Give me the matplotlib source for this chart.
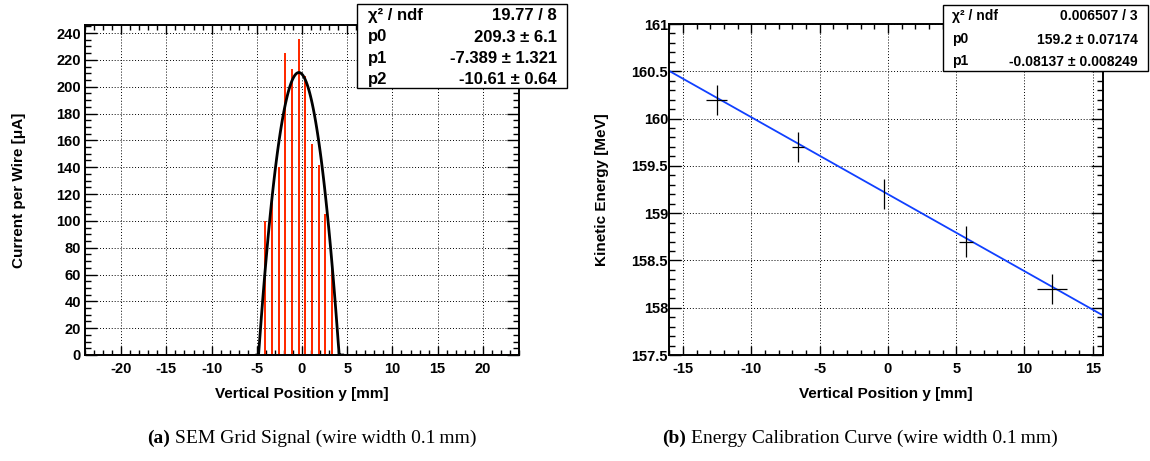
import numpy as np
import matplotlib
matplotlib.use('Agg')
from matplotlib import pyplot as plt
from matplotlib.patches import Rectangle
from matplotlib.ticker import MultipleLocator, FormatStrFormatter

plt.rcParams['font.family'] = ['Liberation Sans', 'DejaVu Sans']
plt.rcParams['font.weight'] = 'bold'
plt.rcParams['axes.labelweight'] = 'bold'
plt.rcParams['axes.unicode_minus'] = False

# SEM grid: wire positions [mm] and current per wire [uA]
wire_pos = [-4.05, -3.32, -2.58, -1.85, -1.11, -0.38, 0.36, 1.10, 1.83, 2.57, 3.30]
wire_current = [100, 120, 140, 225, 213.5, 235.5, 208, 157.5, 142, 105, 70]

# parabola fit p0 + p1*y + p2*y^2
sem_par = [209.3, -7.389, -10.61]
sem_err = ['6.1', '1.321', '0.64']
sem_chi2 = '19.77 / 8'
sem_range = (-5.0, 4.5)

# energy calibration points
cal_pos = [-12.55, -6.57, -0.32, 5.72, 12.02]
cal_pos_err = [0.78, 0.45, 0.0, 0.5, 1.09]
cal_energy = [160.2, 159.7, 159.2, 158.7, 158.2]
cal_energy_err = [0.16, 0.16, 0.16, 0.16, 0.16]

# straight line fit p0 + p1*y
cal_par = [159.2, -0.08137]
cal_err = ['0.07174', '0.008249']
cal_chi2 = '0.006507 / 3'

W, H = 1150, 461


def px_axes(fig, x0, y0, x1, y1):
    return fig.add_axes([x0 / W, 1 - y1 / H, (x1 - x0) / W, (y1 - y0) / H])


def root_style(ax):
    for sp in ax.spines.values():
        sp.set_linewidth(1.4)
    ax.tick_params(which='both', direction='in', top=True, right=True,
                   labelsize=10.5, width=1.0)
    ax.tick_params(axis='x', which='major', length=6.5, pad=5)
    ax.tick_params(axis='x', which='minor', length=3.3)
    ax.tick_params(axis='y', which='major', length=8.5, pad=3)
    ax.tick_params(axis='y', which='minor', length=4.3)
    ax.grid(True, which='major', color='black', lw=0.7, ls=(0, (1, 2)))
    ax.set_axisbelow(True)


def stat_box(fig, box, rows, label_x, value_x, row_y, size):
    x0, y0, x1, y1 = box
    fig.add_artist(Rectangle((x0 / W, 1 - y1 / H), (x1 - x0) / W, (y1 - y0) / H,
                             transform=fig.transFigure, fc='white', ec='black',
                             lw=1.0, zorder=5))
    for (name, value), y in zip(rows, row_y):
        fig.text(label_x / W, 1 - y / H, name, ha='left', va='center',
                 fontsize=size, zorder=6)
        fig.text(value_x / W, 1 - y / H, value, ha='right', va='center',
                 fontsize=size, zorder=6)


fig = plt.figure(figsize=(W / 100, H / 100), dpi=100)

# (a) SEM grid signal
ax1 = px_axes(fig, 85, 25, 519, 355)
root_style(ax1)
ax1.bar(wire_pos, wire_current, width=0.22, color='#ff2a00', lw=0, zorder=2)
ax1.axhline(0, color='#c01800', lw=1.2, zorder=2)
yy = np.linspace(*sem_range, 100)
fit = sem_par[0] + sem_par[1] * yy + sem_par[2] * yy ** 2
ax1.plot(yy, np.clip(fit, 0, None), color='black', lw=2.0, zorder=3)
ax1.set_xlim(-24, 24)
ax1.set_ylim(0, 246)
ax1.xaxis.set_major_locator(MultipleLocator(5))
ax1.xaxis.set_minor_locator(MultipleLocator(1))
ax1.yaxis.set_major_locator(MultipleLocator(20))
ax1.yaxis.set_minor_locator(MultipleLocator(5))
ax1.set_xlabel('Vertical Position y [mm]', fontsize=11)
ax1.set_ylabel('Current per Wire [μA]', fontsize=11)
ax1.xaxis.set_label_coords(0.5, -0.097)
ax1.yaxis.set_label_coords(-0.136, 0.5)

stat_box(fig, (357, 4, 567, 88),
         [('χ² / ndf', sem_chi2),
          ('p0', f'{sem_par[0]:.1f} ± {sem_err[0]}'),
          ('p1', f'{sem_par[1]:.3f} ± {sem_err[1]}'),
          ('p2', f'{sem_par[2]:.2f} ± {sem_err[2]}')],
         368, 557, [15.5, 37, 58.5, 79.5], 12)

# (b) energy calibration curve
ax2 = px_axes(fig, 669.5, 24, 1103, 355)
root_style(ax2)
ax2.errorbar(cal_pos, cal_energy, xerr=cal_pos_err, yerr=cal_energy_err,
             fmt='none', ecolor='black', elinewidth=0.9, capsize=0, zorder=3)
ax2.set_xlim(-16.0, 15.75)
ax2.set_ylim(157.5, 161)
xx = np.linspace(-16.0, 15.75, 2)
ax2.plot(xx, cal_par[0] + cal_par[1] * xx, color='#1040ff', lw=1.3, zorder=2)
ax2.xaxis.set_major_locator(MultipleLocator(5))
ax2.xaxis.set_minor_locator(MultipleLocator(1))
ax2.yaxis.set_major_locator(MultipleLocator(0.5))
ax2.yaxis.set_minor_locator(MultipleLocator(0.1))
ax2.yaxis.set_major_formatter(FormatStrFormatter('%g'))
ax2.tick_params(axis='y', which='major', pad=1)
ax2.set_xlabel('Vertical Position y [mm]', fontsize=11)
ax2.set_ylabel('Kinetic Energy [MeV]', fontsize=11)
ax2.xaxis.set_label_coords(0.5, -0.097)
ax2.yaxis.set_label_coords(-0.14, 0.5)

stat_box(fig, (943, 5, 1148, 71),
         [('χ² / ndf', cal_chi2),
          ('p0', f'{cal_par[0]:.1f} ± {cal_err[0]}'),
          ('p1', f'{cal_par[1]:.5f} ± {cal_err[1]}')],
         952, 1138, [16, 39.5, 61.5], 10)

# captions
for xc, tag, text in [(147, '(a)', 'SEM Grid Signal (wire width 0.1\u2009mm)'),
                      (662, '(b)', 'Energy Calibration Curve (wire width 0.1\u2009mm)')]:
    t = fig.text(xc / W, 1 - 447 / H, tag, ha='left', va='bottom',
                 family=['Liberation Serif', 'DejaVu Serif'], fontsize=14,
                 fontweight='bold')
    ax1.annotate(text, xy=(1, 0), xycoords=t, xytext=(4, 0),
                 textcoords='offset points', ha='left', va='bottom',
                 family=['Liberation Serif', 'DejaVu Serif'], fontsize=14,
                 fontweight='normal', annotation_clip=False)

fig.savefig('out.png', dpi=100)
